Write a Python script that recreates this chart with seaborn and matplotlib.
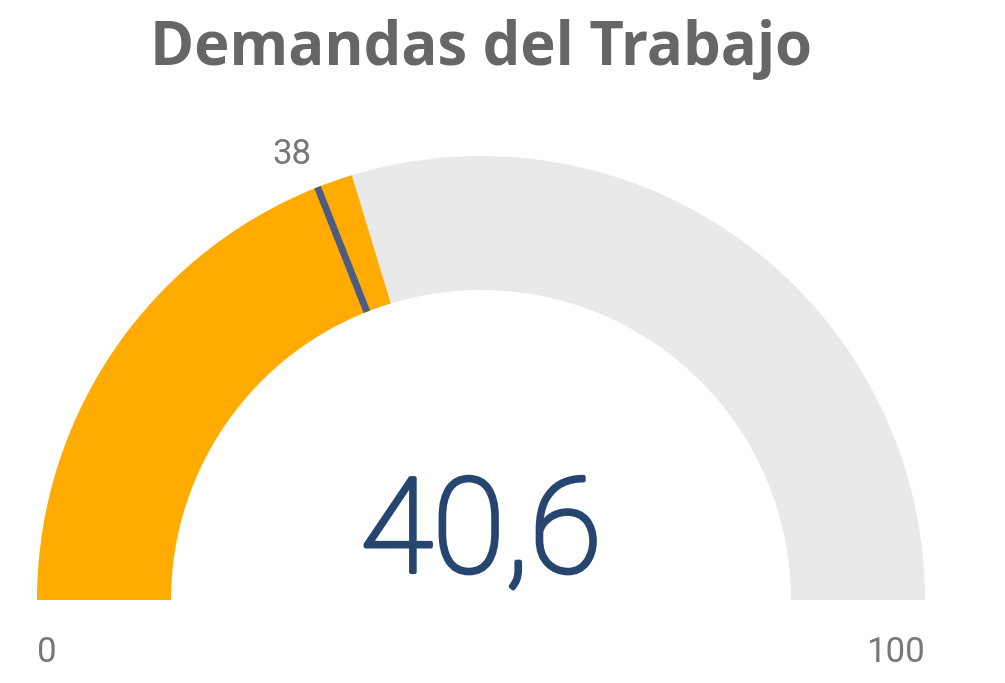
import numpy as np
import pandas as pd
import seaborn as sns
import matplotlib.pyplot as plt
import matplotlib.patheffects as pe
from matplotlib.patches import Wedge

# gauge data
title = "Demandas del Trabajo"
gauge_min = 0
gauge_max = 100
value = 40.6
target = 38

sns.set_theme(style="white")
plt.rcParams['font.family'] = ['Roboto', 'DejaVu Sans']

fill_col = '#FFAB00'
rest_col = '#E9E9E9'
target_col = '#4B5B86'
num_col = '#264670'
label_col = '#777777'
title_col = '#666666'

W, H = 1005, 683
cx, cy, R = 481, 600, 444   # centre and outer radius in pixels
r_in = 310 / 444

fig = plt.figure(figsize=(W / 100, H / 100), dpi=100, facecolor='white')
ax = fig.add_axes([0, 0, 1, 1])
ax.set_xlim(-cx / R, (W - cx) / R)
ax.set_ylim(-(H - cy) / R, cy / R)
ax.axis('off')


def to_angle(v):
    return 180 - 180 * (v - gauge_min) / (gauge_max - gauge_min)


a_val = to_angle(value)
ax.add_patch(Wedge((0, 0), 1, 0, a_val, width=1 - r_in, facecolor=rest_col, edgecolor='none'))
ax.add_patch(Wedge((0, 0), 1, a_val, 180, width=1 - r_in, facecolor=fill_col, edgecolor='none'))

# target marker
a_t = np.deg2rad(to_angle(target))
ax.plot([r_in * np.cos(a_t), np.cos(a_t)], [r_in * np.sin(a_t), np.sin(a_t)],
        color=target_col, lw=5, solid_capstyle='butt')
ax.text(1.04 * np.cos(a_t), 1.04 * np.sin(a_t), f"{target:g}", ha='right', va='bottom',
        fontsize=25, color=label_col)

# main value (light weight, thickened slightly)
ax.text(0, (cy - 572) / R, f"{value:.1f}".replace('.', ','), ha='center', va='baseline',
        fontsize=95, fontweight='light', color=num_col,
        path_effects=[pe.withStroke(linewidth=3, foreground=num_col)])

# min / max labels
ax.text(-1, (cy - 662) / R, f"{gauge_min}", ha='left', va='baseline', fontsize=25, color=label_col)
ax.text(1, (cy - 662) / R, f"{gauge_max}", ha='right', va='baseline', fontsize=25, color=label_col)

# title
ax.text(0, (cy - 65) / R, title, ha='center', va='baseline', fontsize=43,
        fontweight='bold', color=title_col, family=['Open Sans', 'DejaVu Sans'])

fig.savefig('out.png', dpi=100, facecolor='white')
